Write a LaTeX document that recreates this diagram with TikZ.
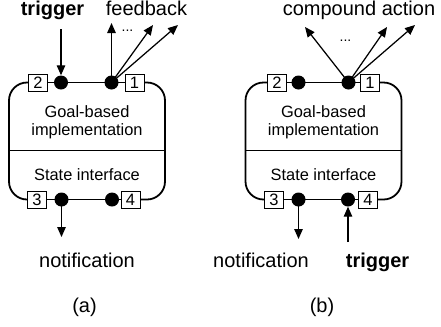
\documentclass[tikz,border=0pt]{standalone}
\usepackage{fontspec}
\setmainfont{Liberation Sans}
\usetikzlibrary{arrows.meta}
\begin{document}
\begin{tikzpicture}[x=1bp,y=-1bp,
  rim/.style={line width=1.8bp},
  port/.style={draw, line width=0.8bp, fill=white, minimum width=19bp,
    minimum height=17bp, inner sep=0pt, font=\fontsize{16.5bp}{18bp}\selectfont},
  joint/.style={circle, fill=black, minimum size=14bp, inner sep=0pt},
  flow/.style={line width=1.25bp, -{Triangle[length=10bp,width=8.5bp]}},
  outertext/.style={font=\fontsize{20bp}{24bp}\selectfont, anchor=base, inner sep=0pt},
  innertext/.style={font=\fontsize{16.4bp}{19bp}\selectfont, anchor=base, inner sep=0pt},
  divider/.style={line width=0.8bp},
]
\useasboundingbox (0,0) rectangle (441,326);

% ---------- (a) goal-based component with feedback ----------
\node[port] (a2) at (38,82.5) {2};
\node[joint] (at) at (61,82.5) {};
\node[joint] (af) at (111.5,82.5) {};
\node[port] (a1) at (134.5,82.5) {1};
\node[port] (a3) at (37,199.5) {3};
\node[joint] (an) at (61.5,199.5) {};
\node[joint] (ax) at (112,199.5) {};
\node[port] (a4) at (130.5,199.5) {4};

\draw[rim, rounded corners=18bp] (a2.west) -- (9,82.5) -- (9,199.5) -- (a3.west);
\draw[rim, rounded corners=18bp] (a1.east) -- (165,82.5) -- (165,199.5) -- (a4.east);
\draw[rim] (a2) -- (a1);
\draw[rim] (a3) -- (a4);
\draw[divider] (9,150) -- (165,150);

\node[innertext] (agoal) at (87,117) {Goal-based};
\node[innertext] (aimpl) at (87,135) {implementation};
\node[innertext] (astate) at (87,180) {State interface};

\node[outertext, font=\fontsize{20bp}{24bp}\selectfont\bfseries] (atrigger) at (52.5,15.5) {trigger};
\node[outertext] (afeed) at (146.5,15.5) {feedback};
\node[outertext, font=\fontsize{14bp}{16bp}\selectfont] (adots) at (127.5,31) {...};
\node[outertext] (anotif) at (87,267) {notification};
\node[outertext] (acap) at (84.5,312) {(a)};

\coordinate (atin) at (61,29);
\coordinate (afb1) at (111.5,23);
\coordinate (afb2) at (153,25);
\coordinate (afb3) at (178,25);
\coordinate (anout) at (61.5,237);
\draw[flow] (atin) -- (at);
\draw[flow] (af.center) -- (afb1);
\draw[flow] (af.center) -- (afb2);
\draw[flow] (af.center) -- (afb3);
\draw[flow] (an.center) -- (anout);

% ---------- (b) goal-based component issuing a compound action ----------
\begin{scope}[xshift=237bp]
\node[port] (b2) at (40,82.5) {2};
\node[joint] (bt) at (61.5,82.5) {};
\node[joint] (bf) at (111.5,82.5) {};
\node[port] (b1) at (133,82.5) {1};
\node[port] (b3) at (37,199.5) {3};
\node[joint] (bn) at (61.5,199.5) {};
\node[joint] (bx) at (111,199.5) {};
\node[port] (b4) at (131,199.5) {4};

\draw[rim, rounded corners=18bp] (b2.west) -- (8.5,82.5) -- (8.5,199.5) -- (b3.west);
\draw[rim, rounded corners=18bp] (b1.east) -- (164.5,82.5) -- (164.5,199.5) -- (b4.east);
\draw[rim] (b2) -- (b1);
\draw[rim] (b3) -- (b4);
\draw[divider] (8.5,150) -- (164.5,150);

\node[innertext] (bgoal) at (86.5,117) {Goal-based};
\node[innertext] (bimpl) at (86.5,135) {implementation};
\node[innertext] (bstate) at (86.5,180) {State interface};

\node[outertext] (bcomp) at (122,15.5) {compound action};
\node[outertext, font=\fontsize{14bp}{16bp}\selectfont] (bdots) at (108.5,41) {...};
\node[outertext] (bnotif) at (24,267) {notification};
\node[outertext, font=\fontsize{20bp}{24bp}\selectfont\bfseries] (btrigger) at (140.5,267) {trigger};
\node[outertext] (bcap) at (85,312) {(b)};

\coordinate (bca1) at (68,27);
\coordinate (bca2) at (150,27);
\coordinate (bca3) at (178,25);
\coordinate (bnout) at (61.5,239);
\coordinate (btin) at (111,242);
\draw[flow] (bf.center) -- (bca1);
\draw[flow] (bf.center) -- (bca2);
\draw[flow] (bf.center) -- (bca3);
\draw[flow] (bn.center) -- (bnout);
\draw[flow] (btin) -- (bx);
\end{scope}
\end{tikzpicture}
\end{document}
